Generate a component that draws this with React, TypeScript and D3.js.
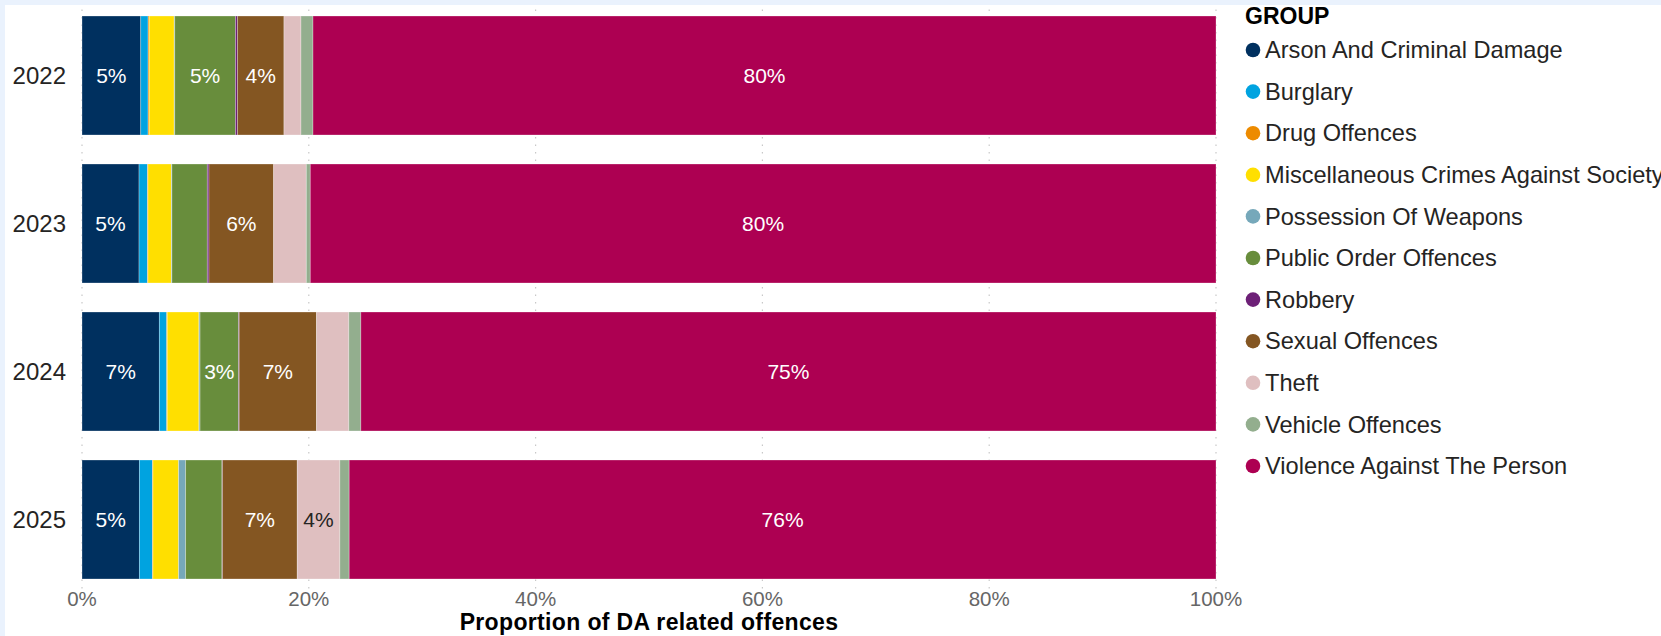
import React, { useEffect } from "react";
import * as d3 from "d3";

const years = ["2022", "2023", "2024", "2025"];
const groups = [
  "Arson And Criminal Damage",
  "Burglary",
  "Drug Offences",
  "Miscellaneous Crimes Against Society",
  "Possession Of Weapons",
  "Public Order Offences",
  "Robbery",
  "Sexual Offences",
  "Theft",
  "Vehicle Offences",
  "Violence Against The Person",
];
// percentage share per year (2022..2025)
const arson = [5.18, 5.03, 6.82, 5.06];
const burglary = [0.65, 0.74, 0.65, 1.15];
const drug = [0.1, 0.05, 0.05, 0.05];
const misc = [2.2, 2.06, 2.79, 2.26];
const possession = [0.05, 0.05, 0.1, 0.62];
const publicOrder = [5.35, 3.12, 3.4, 3.2];
const robbery = [0.18, 0.15, 0.05, 0.05];
const sexual = [4.1, 5.7, 6.82, 6.59];
const theft = [1.5, 2.88, 2.85, 3.76];
const vehicle = [1.06, 0.35, 1.06, 0.82];
const violence = [79.63, 79.87, 75.41, 76.44];
const seriesValues = [arson, burglary, drug, misc, possession, publicOrder, robbery, sexual, theft, vehicle, violence];
const colors = ["#00305F", "#00A3E0", "#ED8B00", "#FFDF00", "#76A8BA", "#688D3C", "#6D2077", "#845622", "#DFBFC0", "#93AE8E", "#AD0052"];
const darkLabel = ["Theft"];
const xTicks = [0, 20, 40, 60, 80, 100];

const W = 1661;
const H = 636;
const FONT = "'Liberation Sans', Arial, sans-serif";

export default function App() {
  useEffect(() => {
    document.body.style.margin = "0";
  }, []);

  const x = d3.scaleLinear().domain([0, 100]).range([82, 1216]);
  const y = d3.scaleBand().domain(years).range([1.5, 593.5]).paddingInner(0.196).paddingOuter(0.098);

  const table = years.map((yr, i) => {
    const row: any = { year: yr };
    groups.forEach((g, k) => (row[g] = seriesValues[k][i]));
    return row;
  });
  const stacked = d3.stack().keys(groups)(table);

  return (
    <svg width={W} height={H} style={{ display: "block", background: "#fff" }} fontFamily={FONT}>
      <rect x={0} y={0} width={W} height={5} fill="#EAF2FD" />
      <rect x={0} y={0} width={5} height={H} fill="#EAF2FD" />
      {xTicks.map((t) => (
        <line key={t} x1={x(t)} x2={x(t)} y1={y.range()[0] + 8} y2={y.range()[1] - 4} stroke="#C8C8C8" strokeWidth={1.2} strokeDasharray="1.5,6" />
      ))}
      {stacked.map((layer, k) => (
        <g key={groups[k]}>
          {layer.map((d, i) => (
            <rect
              key={i}
              x={x(d[0])}
              y={y(years[i])}
              width={Math.max(0, x(d[1]) - x(d[0]))}
              height={y.bandwidth()}
              fill={colors[k]}
              stroke="#ffffff"
              strokeOpacity={0.35}
              strokeWidth={0.8}
            />
          ))}
        </g>
      ))}
      {stacked.map((layer, k) =>
        layer.map((d, i) => {
          const v = d[1] - d[0];
          if (v < 3.3) return null;
          return (
            <text
              key={`${k}-${i}`}
              x={(x(d[0]) + x(d[1])) / 2}
              y={(y(years[i]) as number) + y.bandwidth() / 2}
              dy="0.35em"
              textAnchor="middle"
              fontSize={21}
              fill={darkLabel.includes(groups[k]) ? "#252423" : "#ffffff"}
            >
              {Math.round(v)}%
            </text>
          );
        })
      )}
      {years.map((yr) => (
        <text key={yr} x={66} y={(y(yr) as number) + y.bandwidth() / 2} dy="0.35em" textAnchor="end" fontSize={24} fill="#252423">
          {yr}
        </text>
      ))}
      {xTicks.map((t) => (
        <text key={t} x={x(t)} y={606} textAnchor="middle" fontSize={20.5} fill="#666666">
          {t}%
        </text>
      ))}
      <text x={(x(0) + x(100)) / 2} y={630} textAnchor="middle" fontSize={23} fontWeight="bold" fill="#000" letterSpacing={0.35}>
        Proportion of DA related offences
      </text>
      <text x={1245} y={24} fontSize={23} fontWeight="bold" fill="#000">
        GROUP
      </text>
      {groups.map((g, i) => (
        <g key={g} transform={`translate(0, ${50 + i * 41.6})`}>
          <circle cx={1253} cy={0} r={7.3} fill={colors[i]} />
          <text x={1265} y={0} dy="0.35em" fontSize={23.6} fill="#252423">
            {g}
          </text>
        </g>
      ))}
    </svg>
  );
}
